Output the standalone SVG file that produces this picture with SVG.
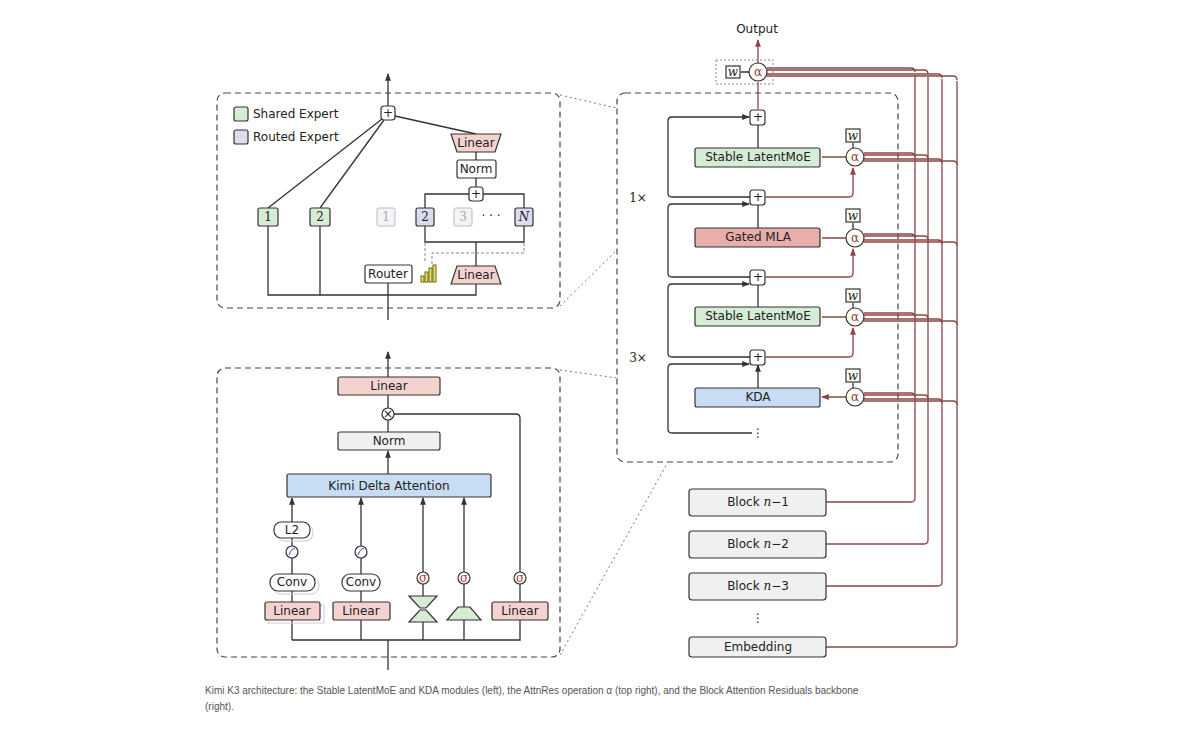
<svg xmlns="http://www.w3.org/2000/svg" width="1200" height="737" viewBox="0 0 1200 737">
<style>
text{font-family:"DejaVu Sans","Noto Sans",sans-serif;font-size:12px;fill:#222;text-anchor:middle;dominant-baseline:central}
.m{font-family:"DejaVu Serif","Liberation Serif",serif}
.cap{font-family:"Liberation Sans",Arial,sans-serif;font-size:10px;text-anchor:start;fill:#555}
.b{stroke:#333;stroke-width:1.3;fill:none}
.r{stroke:#8b4545;stroke-width:1.3;fill:none}
.dash{stroke:#444;stroke-width:1.2;fill:none;stroke-dasharray:6 4}
.dot{stroke:#777;stroke-width:1;fill:none;stroke-dasharray:2 3}
.g{fill:#d6ecd5;stroke:#333;stroke-width:1.2}
.rd{fill:#f4d3ce;stroke:#333;stroke-width:1.2}
.rd2{fill:#e9adaa;stroke:#333;stroke-width:1.2}
.bl{fill:#c8dcf3;stroke:#333;stroke-width:1.2}
.lv{fill:#dcdcf0;stroke:#333;stroke-width:1.2}
.gr{fill:#f0f0f0;stroke:#333;stroke-width:1.2}
.w{fill:#fff;stroke:#333;stroke-width:1.2}
.fd{fill:#f4f4f8;stroke:#bbb;stroke-width:1}
</style>
<defs>
<marker id="a" viewBox="0 0 8 8" refX="7" refY="4" markerWidth="6" markerHeight="6" orient="auto"><path d="M0,1 L8,4 L0,7z" fill="#333"/></marker>
<marker id="ar" viewBox="0 0 8 8" refX="7" refY="4" markerWidth="6" markerHeight="6" orient="auto"><path d="M0,1 L8,4 L0,7z" fill="#8b4545"/></marker>
</defs>
<rect width="1200" height="737" fill="#fff"/>

<rect x="217" y="93" width="343" height="215" rx="8" class="dash"/>
<rect x="217" y="368" width="343" height="289" rx="8" class="dash"/>
<rect x="617" y="93" width="281" height="369" rx="8" class="dash"/>
<g id="zoomlines">
<path d="M560,95 L617,108 M560,306 L617,250 M560,370 L617,378 M560,655 L668,462" class="dot"/>
</g>

<g id="connectors">
<path d="M388,320 V295 M268,226 V295 H476 V284 M320,226 V295" class="b"/>
<path d="M388,295 V283" class="b"/>
<path d="M388,106 V74" class="b" marker-end="url(#a)"/>
<path d="M382,119 L268,208 M384,120 L320,208 M395,116 L476,134" class="b"/>
<path d="M476,152 V160 M476,178 V187 M469,194 H425 V208 M483,194 H524 V208 M425,226 V242 H524 V226 M476,242 V266" class="b"/>
<path d="M425,238 V262 M524,238 V253 H432 V265" stroke="#888" stroke-width="1" fill="none" stroke-dasharray="3 2"/>
<path d="M388,670 V640 M292,640 H520 V620 M292,640 V620 M361,640 V620 M423,640 V620 M464,640 V620" class="b"/>
<path d="M292,602 V591 M292,574 V558 M292,546 V538 M292,522 V498" class="b" marker-end="url(#a)"/>
<path d="M361,602 V591 M361,574 V558 M361,546 V498" class="b" marker-end="url(#a)"/>
<path d="M423,600 V584 M423,572 V498" class="b" marker-end="url(#a)"/>
<path d="M464,607 V584 M464,572 V498" class="b" marker-end="url(#a)"/>
<path d="M520,602 V584 M520,572 V418 Q520,414 516,414 H394" class="b"/>
<path d="M388,474 V451" class="b" marker-end="url(#a)"/>
<path d="M388,432 V420 M388,408 V395 M388,377 V352" class="b" marker-end="url(#a)"/>
<path d="M758,148 V125 M758,228 V205 M758,307 V285 M758,388 V365" class="b" marker-end="url(#a)"/>
<path d="M750,197 H672 Q668,197 668,193 V121 Q668,117 672,117 H749" class="b" marker-end="url(#a)"/>
<path d="M750,277 H672 Q668,277 668,273 V208 Q668,204 672,204 H749" class="b" marker-end="url(#a)"/>
<path d="M750,357 H672 Q668,357 668,353 V288 Q668,284 672,284 H749" class="b" marker-end="url(#a)"/>
<path d="M752,433 H672 Q668,433 668,429 V368 Q668,364 672,364 H749" class="b" marker-end="url(#a)"/>
<path d="M758,109 V82" class="r"/>
<path d="M758,63 V40" class="r" marker-end="url(#ar)"/>
<path d="M766,197 H849 Q853,197 853,193 V168" class="r" marker-end="url(#ar)"/>
<path d="M766,277 H849 Q853,277 853,273 V249" class="r" marker-end="url(#ar)"/>
<path d="M766,357 H849 Q853,357 853,353 V328" class="r" marker-end="url(#ar)"/>
<path d="M846,157 H822 M846,238 H822 M846,317 H822 M846,397 H822" class="r" marker-end="url(#ar)"/>
<path d="M853,143 V148 M853,223 V229 M853,303 V308 M853,383 V388 M741,72 H749" class="b"/>
<path d="M826,502 H911 Q915,502 915,498 V75 M826,544 H924 Q928,544 928,540 V77 M826,586 H938 Q942,586 942,582 V79 M826,647 H953 Q957,647 957,643 V81" class="r"/>
<path d="M767,68 H911 Q915,68 915,72 M767,70 H924 Q928,70 928,74 M767,74 H938 Q942,74 942,78 M767,76 H953 Q957,76 957,80" class="r"/>
<path d="M864,153 H911 Q915,153 915,157 M864,155 H924 Q928,155 928,159 M864,159 H938 Q942,159 942,163 M864,161 H953 Q957,161 957,165" class="r"/>
<path d="M864,234 H911 Q915,234 915,238 M864,236 H924 Q928,236 928,240 M864,240 H938 Q942,240 942,244 M864,242 H953 Q957,242 957,246" class="r"/>
<path d="M864,313 H911 Q915,313 915,317 M864,315 H924 Q928,315 928,319 M864,319 H938 Q942,319 942,323 M864,321 H953 Q957,321 957,325" class="r"/>
<path d="M864,393 H911 Q915,393 915,397 M864,395 H924 Q928,395 928,399 M864,399 H938 Q942,399 942,403 M864,401 H953 Q957,401 957,405" class="r"/>
</g>

<g id="legend">
<rect x="234" y="107" width="14" height="14" rx="2" class="g"/><text x="253" y="114" style="text-anchor:start">Shared Expert</text>
<rect x="234" y="130" width="14" height="14" rx="2" class="lv"/><text x="253" y="137" style="text-anchor:start">Routed Expert</text>
</g>
<g id="moe-plus"><rect x="381" y="106" width="14" height="14" rx="3" class="w"/><text x="388" y="113">+</text></g>
<g id="moe-linear-top"><path d="M451,134 H501 L495,152 H457 Z" class="rd"/><text x="476" y="143">Linear</text></g>
<g id="moe-norm"><rect x="457" y="160" width="39" height="18" rx="2" class="w"/><text x="476" y="169">Norm</text></g>
<g id="moe-plus2"><rect x="469" y="187" width="14" height="14" rx="3" class="w"/><text x="476" y="194">+</text></g>
<g id="se1"><rect x="258" y="208" width="20" height="18" rx="2" class="g"/><text x="268" y="217" class="m" font-size="11">1</text></g>
<g id="se2"><rect x="310" y="208" width="20" height="18" rx="2" class="g"/><text x="320" y="217" class="m" font-size="11">2</text></g>
<g id="re1"><rect x="377" y="208" width="18" height="18" rx="2" class="fd"/><text x="386" y="217" class="m" font-size="11" style="fill:#aaa">1</text></g>
<g id="re2"><rect x="416" y="208" width="18" height="18" rx="2" class="lv"/><text x="425" y="217" class="m" font-size="11">2</text></g>
<g id="re3"><rect x="454" y="208" width="18" height="18" rx="2" class="fd"/><text x="463" y="217" class="m" font-size="11" style="fill:#aaa">3</text></g>
<text x="491" y="216" font-size="12">· · ·</text>
<g id="reN"><rect x="515" y="208" width="18" height="18" rx="2" class="lv"/><text x="524" y="217" class="m" font-size="11" font-style="italic">N</text></g>
<g id="router"><rect x="365" y="265" width="47" height="18" rx="2" class="w"/><text x="388" y="274">Router</text></g>
<g id="chart" stroke="#6b6b10" stroke-width="1" fill="#e8e070">
<rect x="421" y="276" width="3" height="6"/><rect x="425" y="272" width="3" height="10"/><rect x="429" y="268" width="3" height="14"/><rect x="433" y="265" width="3" height="17"/>
</g>
<g id="moe-linear-bottom"><path d="M457,266 H495 L501,284 H451 Z" class="rd"/><text x="476" y="275">Linear</text></g>

<g id="kda-linear-out"><rect x="338" y="377" width="102" height="18" rx="2" class="rd"/><text x="389" y="386">Linear</text></g>
<g id="kda-mul"><circle cx="388" cy="414" r="6" class="w"/><text x="388" y="414" font-size="9">×</text></g>
<g id="kda-norm"><rect x="338" y="432" width="102" height="18" rx="2" class="gr"/><text x="389" y="441">Norm</text></g>
<g id="kda"><rect x="287" y="474" width="204" height="23" rx="2" class="bl"/><text x="389" y="486">Kimi Delta Attention</text></g>
<g id="col1">
<rect x="268" y="605" width="56" height="18" fill="none" stroke="#ccc"/>
<rect x="265" y="602" width="55" height="18" rx="2" class="rd"/><text x="292" y="611">Linear</text>
<rect x="273" y="577" width="46" height="17" rx="8" fill="none" stroke="#ccc"/>
<rect x="270" y="574" width="45" height="17" rx="8" class="w"/><text x="292" y="582">Conv</text>
<circle cx="292" cy="552" r="6" class="w"/><path d="M289,555 Q292,547 295,549" stroke="#4040b0" fill="none"/>
<rect x="277" y="525" width="36" height="16" rx="7" fill="none" stroke="#ccc"/>
<rect x="274" y="522" width="36" height="16" rx="7" class="w"/><text x="292" y="530">L2</text>
</g>
<g id="col2">
<rect x="333" y="602" width="57" height="18" rx="2" class="rd"/><text x="361" y="611">Linear</text>
<rect x="342" y="574" width="38" height="17" rx="8" class="w"/><text x="361" y="582">Conv</text>
<circle cx="361" cy="552" r="6" class="w"/><path d="M358,555 Q361,547 364,549" stroke="#4040b0" fill="none"/>
</g>
<g id="col3">
<path d="M409,596 H437 L426,608 H420 Z M420,610 H426 L437,622 H409 Z" class="g"/>
<circle cx="423" cy="578" r="6" class="w"/><text x="423" y="578" font-size="8" style="fill:#b04040" class="m">σ</text>
</g>
<g id="col4">
<path d="M458,607 H470 L481,620 H447 Z" class="g"/>
<circle cx="464" cy="578" r="6" class="w"/><text x="464" y="578" font-size="8" style="fill:#b04040" class="m">σ</text>
</g>
<g id="col5">
<rect x="492" y="602" width="56" height="18" rx="2" class="rd"/><text x="520" y="611">Linear</text>
<circle cx="520" cy="578" r="6" class="w"/><text x="520" y="578" font-size="8" style="fill:#b04040" class="m">σ</text>
</g>

<text x="757" y="29">Output</text>
<g id="top-attn">
<rect x="716" y="60" width="57" height="24" fill="none" stroke="#888" stroke-dasharray="2 2"/>
<rect x="726" y="66" width="14" height="12" class="w"/><text x="733" y="72" font-size="8" class="m" font-style="italic">w</text>
<circle cx="758" cy="72" r="9" class="w" stroke="#8b4545"/><text x="758" y="72" class="m" font-size="10" style="fill:#8b4545">α</text>
</g>
<g id="plus1"><rect x="750" y="110" width="15" height="15" rx="3" class="w"/><text x="758" y="117">+</text></g>
<g id="slm1"><rect x="695" y="148" width="125" height="19" rx="2" class="g"/><text x="758" y="157">Stable LatentMoE</text></g>
<g id="plus2"><rect x="750" y="190" width="15" height="15" rx="3" class="w"/><text x="758" y="197">+</text></g>
<g id="mla"><rect x="695" y="228" width="125" height="19" rx="2" class="rd2"/><text x="758" y="237">Gated MLA</text></g>
<g id="plus3"><rect x="750" y="270" width="15" height="15" rx="3" class="w"/><text x="758" y="277">+</text></g>
<g id="slm2"><rect x="695" y="307" width="125" height="19" rx="2" class="g"/><text x="758" y="316">Stable LatentMoE</text></g>
<g id="plus4"><rect x="750" y="350" width="15" height="15" rx="3" class="w"/><text x="758" y="357">+</text></g>
<g id="kdab"><rect x="695" y="388" width="125" height="19" rx="2" class="bl"/><text x="758" y="397">KDA</text></g>
<text x="758" y="433" font-size="20">⋮</text>
<text x="638" y="198" class="m" font-size="14">1×</text>
<text x="638" y="358" class="m" font-size="14">3×</text>
<g id="alphas">
<rect x="846" y="129" width="14" height="13" class="w"/><text x="853" y="136" font-size="8" class="m" font-style="italic">w</text>
<circle cx="855" cy="157" r="9" class="w" stroke="#8b4545"/><text x="855" y="157" class="m" font-size="10" style="fill:#8b4545">α</text>
<rect x="846" y="209" width="14" height="13" class="w"/><text x="853" y="216" font-size="8" class="m" font-style="italic">w</text>
<circle cx="855" cy="238" r="9" class="w" stroke="#8b4545"/><text x="855" y="238" class="m" font-size="10" style="fill:#8b4545">α</text>
<rect x="846" y="289" width="14" height="13" class="w"/><text x="853" y="296" font-size="8" class="m" font-style="italic">w</text>
<circle cx="855" cy="317" r="9" class="w" stroke="#8b4545"/><text x="855" y="317" class="m" font-size="10" style="fill:#8b4545">α</text>
<rect x="846" y="369" width="14" height="13" class="w"/><text x="853" y="376" font-size="8" class="m" font-style="italic">w</text>
<circle cx="855" cy="397" r="9" class="w" stroke="#8b4545"/><text x="855" y="397" class="m" font-size="10" style="fill:#8b4545">α</text>
</g>
<g id="bn1"><rect x="689" y="489" width="137" height="27" rx="3" class="gr"/><text x="758" y="502">Block <tspan class="m" font-style="italic">n</tspan>−1</text></g>
<g id="bn2"><rect x="689" y="531" width="137" height="27" rx="3" class="gr"/><text x="758" y="544">Block <tspan class="m" font-style="italic">n</tspan>−2</text></g>
<g id="bn3"><rect x="689" y="573" width="137" height="27" rx="3" class="gr"/><text x="758" y="586">Block <tspan class="m" font-style="italic">n</tspan>−3</text></g>
<text x="758" y="618" font-size="20">⋮</text>
<g id="emb"><rect x="689" y="637" width="137" height="20" rx="3" class="gr"/><text x="758" y="647">Embedding</text></g>

<text x="205" y="690" class="cap">Kimi K3 architecture: the Stable LatentMoE and KDA modules (left), the AttnRes operation α (top right), and the Block Attention Residuals backbone</text>
<text x="205" y="706" class="cap">(right).</text>
</svg>
